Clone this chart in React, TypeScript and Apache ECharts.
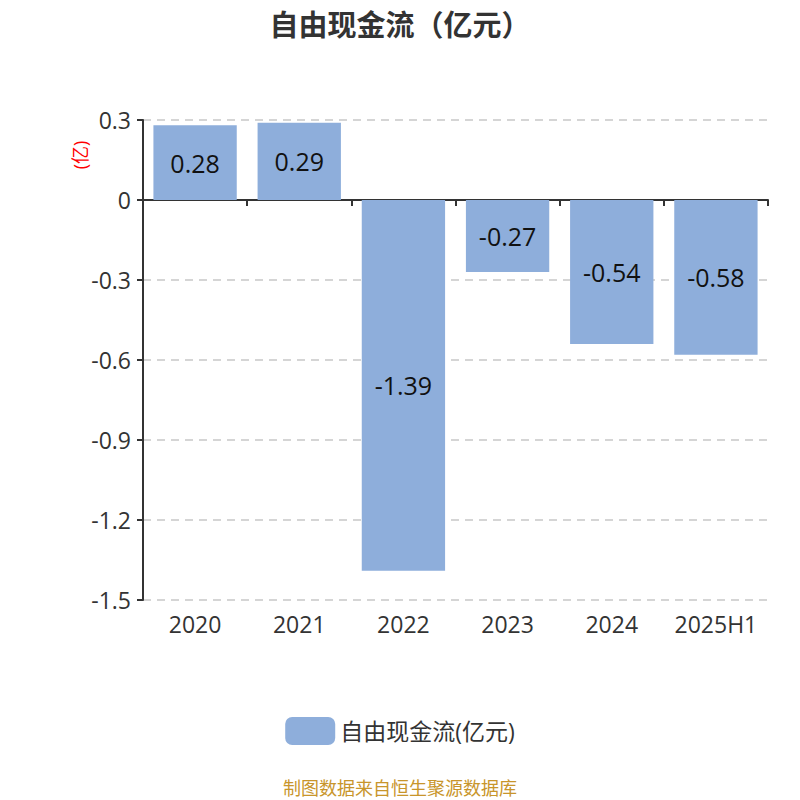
import React, { useEffect, useRef } from "react";
import * as echarts from "echarts";

const categories = ["2020", "2021", "2022", "2023", "2024", "2025H1"];
const values = [0.28, 0.29, -1.39, -0.27, -0.54, -0.58];
const seriesName = "自由现金流(亿元)";
const titleText = "自由现金流（亿元）";
const unitText = "(亿)";
const sourceText = "制图数据来自恒生聚源数据库";

const FONT = "'Open Sans', 'Noto Sans CJK SC', sans-serif";

export default function App() {
  const ref = useRef<HTMLDivElement>(null);
  useEffect(() => {
    if (!ref.current) return;
    const chart = echarts.init(ref.current, null, { renderer: "svg" });
    chart.setOption({
      animation: false,
      backgroundColor: "#ffffff",
      title: {
        text: titleText,
        left: "center",
        top: 3,
        textStyle: { fontSize: 29, fontWeight: "bold", color: "#333", fontFamily: "'Noto Sans CJK SC', sans-serif" },
      },
      legend: {
        bottom: 50,
        left: "center",
        itemWidth: 50,
        itemHeight: 28,
        itemGap: 10,
        textStyle: { fontSize: 23, color: "#333", fontFamily: FONT },
        data: [{ name: seriesName, icon: "roundRect" }],
      },
      graphic: [
        {
          type: "text",
          x: 80,
          y: 155,
          rotation: Math.PI / 2,
          style: {
            text: unitText,
            fill: "#ff0000",
            fontSize: 18,
            fontFamily: FONT,
            align: "center",
            verticalAlign: "middle",
          },
        },
        {
          type: "text",
          left: "center",
          top: 778,
          style: {
            text: sourceText,
            fill: "#c8952b",
            fontSize: 18,
            fontFamily: "'Noto Sans CJK SC', sans-serif",
          },
        },
      ],
      grid: { left: 143, right: 32, top: 120, bottom: 200, containLabel: false },
      xAxis: [
        {
          type: "category",
          data: categories,
          position: "bottom",
          axisLine: { show: false, onZero: false },
          axisTick: { show: false },
          axisLabel: { fontSize: 23, color: "#333", margin: 12, interval: 0, fontFamily: FONT },
        },
        {
          type: "category",
          data: categories,
          position: "bottom",
          axisLine: { show: true, onZero: true, lineStyle: { color: "#333", width: 2 } },
          axisTick: { show: true, length: 6, lineStyle: { color: "#333", width: 2 } },
          axisLabel: { show: false },
        },
      ],
      yAxis: {
        type: "value",
        min: -1.5,
        max: 0.3,
        interval: 0.3,
        axisLine: { show: true, lineStyle: { color: "#333", width: 2 } },
        axisTick: { show: true, length: 6, lineStyle: { color: "#333", width: 2 } },
        axisLabel: {
          fontSize: 23,
          color: "#333",
          margin: 12,
          fontFamily: FONT,
          formatter: (v: number) => {
            const r = Math.round(v * 10) / 10;
            return r === 0 ? "0" : String(r);
          },
        },
        splitLine: { show: true, lineStyle: { type: [8, 6], color: "#c8c8c8", width: 1.5 } },
      },
      series: [
        {
          name: seriesName,
          type: "bar",
          data: values,
          xAxisIndex: 0,
          barWidth: "80%",
          itemStyle: { color: "#8eaedb" },
          label: {
            show: true,
            position: "inside",
            fontSize: 25,
            color: "#111",
            fontFamily: FONT,
          },
        },
      ],
    });
    return () => chart.dispose();
  }, []);
  return <div ref={ref} style={{ width: 800, height: 800, marginLeft: -8, marginTop: -8 }} />;
}
